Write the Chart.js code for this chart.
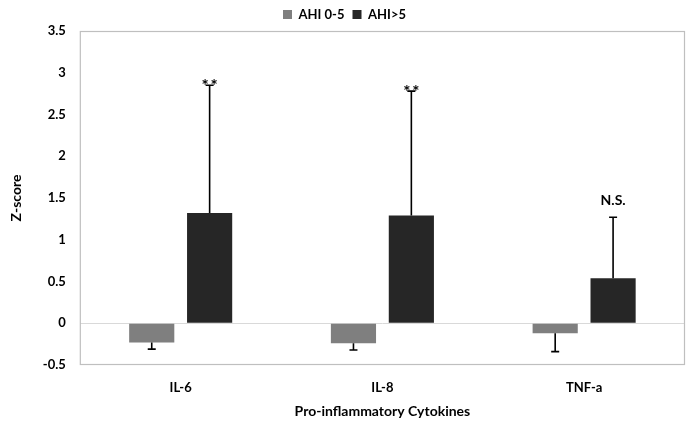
<!DOCTYPE html>
<html>
<head>
<meta charset="utf-8">
<script src="https://cdn.jsdelivr.net/npm/chart.js@4"></script>
<style>
  body { margin: 0; background: #fff; }
  #wrap { width: 687px; height: 422px; }
</style>
</head>
<body>
<div id="wrap"><canvas id="chartZ" width="687" height="422"></canvas></div>
<script>
// Z-score de citoquinas por grupo AHI
var categorias = ['IL-6', 'IL-8', 'TNF-a'];
var ahiBajo = [-0.23, -0.24, -0.12];
var ahiAlto = [1.32, 1.29, 0.54];
var errorBajo = [0.08, 0.08, 0.22];
var errorAlto = [1.53, 1.49, 0.73];
var marcas = ['**', '**', 'N.S.'];
var yTicks = [-0.5, 0, 0.5, 1, 1.5, 2, 2.5, 3, 3.5];

var gris = '#7f7f7f',
    negro = '#262626';

Chart.defaults.font.family = 'Lato, "Open Sans", sans-serif';
Chart.defaults.font.weight = 'bold';
Chart.defaults.color = '#000';

// barras de error, marco y etiquetas
var extras = {
  id: 'extras',
  afterDatasetsDraw: function (chart) {
    var ctx = chart.ctx;
    var y = chart.scales.y;
    var area = chart.chartArea;
    ctx.save();
    ctx.strokeStyle = '#bfbfbf';
    ctx.lineWidth = 1.2;
    ctx.strokeRect(area.left + 0.5, area.top + 0.5, area.right - area.left - 1, area.bottom - area.top - 1);

    var sets = [[0, ahiBajo, errorBajo], [1, ahiAlto, errorAlto]];
    ctx.strokeStyle = '#000';
    ctx.lineWidth = 1.6;
    sets.forEach(function (s) {
      var meta = chart.getDatasetMeta(s[0]);
      meta.data.forEach(function (bar, i) {
        var v = s[1][i];
        var fin = v < 0 ? v - s[2][i] : v + s[2][i];
        var y0 = y.getPixelForValue(v);
        var y1 = y.getPixelForValue(fin);
        ctx.beginPath();
        ctx.moveTo(bar.x, y0);
        ctx.lineTo(bar.x, y1);
        ctx.moveTo(bar.x - 4, y1);
        ctx.lineTo(bar.x + 4, y1);
        ctx.stroke();
        if (s[0] === 1) {
          ctx.fillStyle = '#000';
          ctx.textAlign = 'center';
          if (marcas[i] === '**') {
            ctx.font = 'bold 17px Lato, "Open Sans", sans-serif';
            ctx.textBaseline = 'middle';
            ctx.fillText('*', bar.x - 4.5, y1 + 1);
            ctx.fillText('*', bar.x + 4.5, y1 + 1);
          } else {
            ctx.font = 'bold 14px Lato, "Open Sans", sans-serif';
            ctx.textBaseline = 'bottom';
            ctx.fillText(marcas[i], bar.x, y1 - 10);
          }
        }
      });
    });
    ctx.restore();
  }
};

var chartZ = new Chart(document.getElementById('chartZ'), {
  type: 'bar',
  data: {
    labels: categorias,
    datasets: [{
      label: 'AHI 0-5',
      data: ahiBajo,
      backgroundColor: gris,
      categoryPercentage: 0.574,
      barPercentage: 0.78
    }, {
      label: 'AHI>5',
      data: ahiAlto,
      backgroundColor: negro,
      categoryPercentage: 0.574,
      barPercentage: 0.78
    }]
  },
  options: {
    responsive: false,
    animation: false,
    layout: { padding: { left: 4, right: 2, top: 0, bottom: 0 } },
    plugins: {
      legend: {
        position: 'top',
        labels: {
          boxWidth: 9,
          boxHeight: 9,
          padding: 8,
          font: { size: 13, weight: 'bold' }
        }
      },
      tooltip: { enabled: false }
    },
    scales: {
      x: {
        grid: { display: false, drawTicks: false },
        border: { display: false },
        ticks: { font: { size: 13, weight: 'bold', lineHeight: 1 }, padding: 16 },
        title: {
          display: true,
          text: 'Pro-inflammatory Cytokines',
          font: { size: 14, weight: 'bold', lineHeight: 1 },
          padding: { top: -6, bottom: 4 }
        }
      },
      y: {
        min: -0.5,
        max: 3.5,
        afterBuildTicks: function (axis) {
          axis.ticks = yTicks.map(function (v) { return { value: v }; });
        },
        grid: {
          drawTicks: false,
          color: function (c) { return c.tick && c.tick.value === 0 ? '#d9d9d9' : 'rgba(0,0,0,0)'; }
        },
        border: { display: false },
        ticks: {
          font: { size: 13, weight: 'bold' },
          padding: 14,
          callback: function (v) { return String(v); }
        },
        title: {
          display: true,
          text: 'Z-score',
          font: { size: 14, weight: 'bold' }
        }
      }
    }
  },
  plugins: [extras]
});
</script>
</body>
</html>
